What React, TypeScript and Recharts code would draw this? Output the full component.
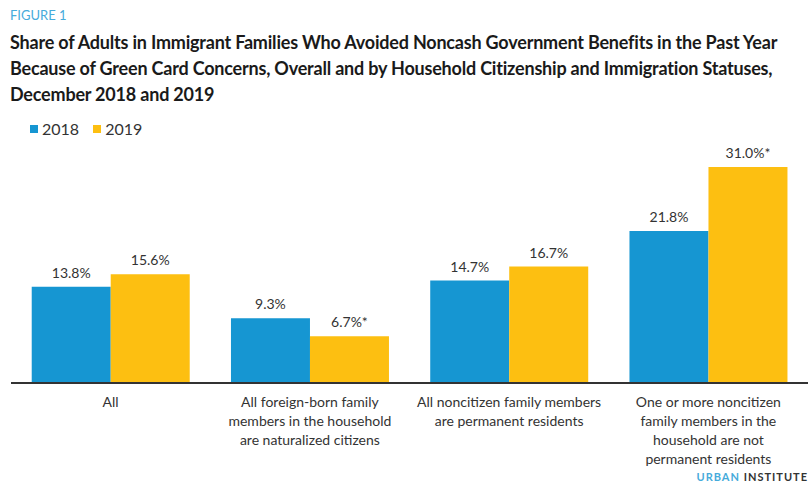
import React from "react";
import { BarChart, Bar, XAxis, YAxis, LabelList } from "recharts";

const categories = [
  "All",
  "All foreign-born family members in the household are naturalized citizens",
  "All noncitizen family members are permanent residents",
  "One or more noncitizen family members in the household are not permanent residents",
];

const tickLines: string[][] = [
  ["All"],
  ["All foreign-born family", "members in the household", "are naturalized citizens"],
  ["All noncitizen family members", "are permanent residents"],
  ["One or more noncitizen", "family members in the", "household are not", "permanent residents"],
];

const values2018 = [13.8, 9.3, 14.7, 21.8];
const values2019 = [15.6, 6.7, 16.7, 31.0];
const labels2018 = ["13.8%", "9.3%", "14.7%", "21.8%"];
const labels2019 = ["15.6%", "6.7%*", "16.7%", "31.0%*"];

const BLUE = "#1696d2";
const YELLOW = "#fdbf11";
const FONT = "Lato, 'Open Sans', sans-serif";

const data = categories.map((c, i) => ({
  cat: c,
  y2018: values2018[i],
  y2019: values2019[i],
  l2018: labels2018[i],
  l2019: labels2019[i],
}));

function CatTick(props: any) {
  const { x, y, payload } = props;
  const lines = tickLines[payload.index] || [payload.value];
  return (
    <text x={x} y={y + 16} textAnchor="middle" fill="#333" fontSize={14} fontFamily={FONT}>
      {lines.map((ln, i) => (
        <tspan key={i} x={x} dy={i === 0 ? 0 : 19}>
          {ln}
        </tspan>
      ))}
    </text>
  );
}

export default function App() {
  return (
    <div
      style={{
        position: "absolute",
        left: 0,
        top: 0,
        width: 812,
        height: 489,
        background: "#fff",
        fontFamily: FONT,
      }}
    >
      <div style={{ position: "absolute", left: 10, top: 7, fontSize: 13, color: "#46abdb" }}>
        FIGURE 1
      </div>
      <div
        style={{
          position: "absolute",
          left: 10,
          top: 29,
          width: 810,
          fontSize: 18,
          fontWeight: 700,
          lineHeight: "26px",
          letterSpacing: -0.2,
          color: "#1a1a1a",
          whiteSpace: "nowrap",
        }}
      >
        Share of Adults in Immigrant Families Who Avoided Noncash Government Benefits in the Past Year
        <br />
        Because of Green Card Concerns, Overall and by Household Citizenship and Immigration Statuses,
        <br />
        December 2018 and 2019
      </div>
      <div
        style={{
          position: "absolute",
          left: 30,
          top: 119,
          fontSize: 16,
          color: "#333",
          display: "flex",
          alignItems: "center",
        }}
      >
        <span style={{ width: 8, height: 8, background: BLUE, display: "inline-block", marginRight: 4 }} />
        <span style={{ marginRight: 14 }}>2018</span>
        <span style={{ width: 8, height: 8, background: YELLOW, display: "inline-block", marginRight: 4 }} />
        <span>2019</span>
      </div>
      <div
        style={{
          position: "absolute",
          right: 4,
          top: 470,
          fontSize: 11,
          letterSpacing: 1,
          fontWeight: 700,
        }}
      >
        <span style={{ color: "#46abdb" }}>URBAN </span>
        <span style={{ color: "#333" }}>INSTITUTE</span>
      </div>
      <div style={{ position: "absolute", left: 0, top: 0 }}>
        <BarChart
          width={812}
          height={489}
          data={data}
          margin={{ top: 139, right: 4, bottom: 0, left: 11 }}
          barCategoryGap="10.4%"
          barGap={0}
        >
          <XAxis
            dataKey="cat"
            interval={0}
            tickLine={false}
            axisLine={{ stroke: "#333", strokeWidth: 2 }}
            tick={<CatTick />}
            height={106}
          />
          <YAxis hide domain={[0, 35]} />
          <Bar dataKey="y2018" fill={BLUE} isAnimationActive={false}>
            <LabelList
              dataKey="l2018"
              position="top"
              offset={9}
              fill="#333"
              fontSize={14}
              fontFamily={FONT}
            />
          </Bar>
          <Bar dataKey="y2019" fill={YELLOW} isAnimationActive={false}>
            <LabelList
              dataKey="l2019"
              position="top"
              offset={9}
              fill="#333"
              fontSize={14}
              fontFamily={FONT}
            />
          </Bar>
        </BarChart>
      </div>
    </div>
  );
}
